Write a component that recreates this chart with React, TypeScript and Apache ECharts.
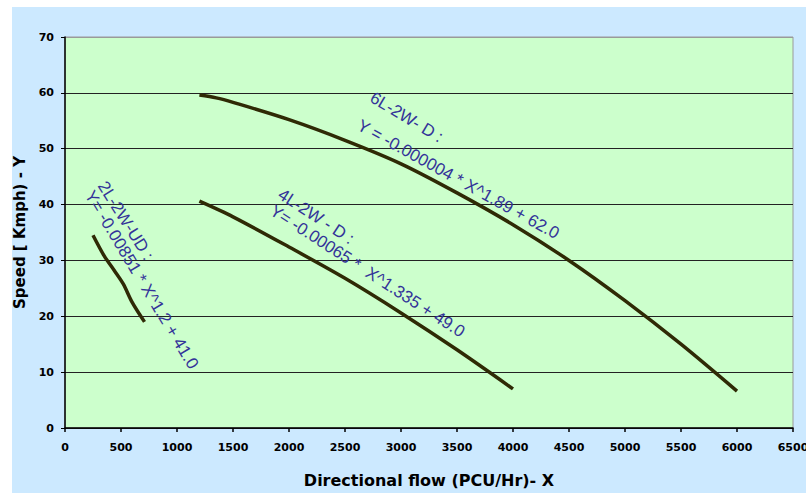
import React, { useEffect, useRef } from "react";
import * as echarts from "echarts";

// ---- data ----
const flow6L = [1200, 1350, 1500, 2000, 2500, 3000, 3500, 4000, 4500, 5000, 5500, 6000];
const speed6L = [59.6, 59.1, 58.3, 55.2, 51.5, 47.3, 42.1, 36.4, 30.0, 22.8, 15.0, 6.6];

const flow4L = [1200, 1500, 2000, 2500, 3000, 3500, 4000];
const speed4L = [40.6, 37.8, 32.4, 26.8, 20.6, 14.0, 7.0];

const flow2L = [250, 350, 440, 520, 600, 710];
const speed2L = [34.5, 30.8, 28.2, 25.8, 22.5, 19.0];

const xTicks = { min: 0, max: 6500, interval: 500 };
const yTicks = { min: 0, max: 70, interval: 10 };

const xAxisName = "Directional flow (PCU/Hr)- X";
const yAxisName = "Speed [ Kmph) - Y";

// equation labels: text, anchor (data units), angle in degrees (clockwise)
const labelTexts = [
  "2L-2W-UD :",
  "Y= -0.00851 * X^1.2 + 41.0",
  "4L-2W - D :",
  "Y= -0.00065 *  X^1.335 + 49.0",
  "6L-2W- D :",
  "Y = -0.000004 * X^1.89 + 62.0",
];
const labelX = [330, 214, 1917, 1846, 2737, 2621];
const labelY = [43.9, 42.2, 42.1, 39.2, 59.4, 54.4];
const labelAngle = [58, 59, 33, 33, 31, 29];

const zip = (xs: number[], ys: number[]) => xs.map((x, i) => [x, ys[i]]);

export default function App() {
  const ref = useRef<HTMLDivElement>(null);
  useEffect(() => {
    if (!ref.current) return;
    const chart = echarts.init(ref.current, undefined, { renderer: "svg" });
    const lineColor = "#2f2a05";
    const labelFont = "'DejaVu Sans', sans-serif";
    const mkSeries = (data: number[][]) => ({
      type: "line",
      data,
      showSymbol: false,
      smooth: 0.3,
      lineStyle: { color: lineColor, width: 3.5 },
      z: 3,
    });
    chart.setOption({
      animation: false,
      backgroundColor: "#cce9ff",
      grid: {
        left: 53,
        right: 13,
        top: 30,
        bottom: 65,
        containLabel: false,
        outerBoundsMode: "none",
        show: true,
        backgroundColor: "#ccffcc",
        borderColor: "#9a9a9a",
        borderWidth: 1,
      },
      xAxis: {
        type: "value",
        min: xTicks.min,
        max: xTicks.max,
        interval: xTicks.interval,
        name: xAxisName,
        nameLocation: "middle",
        nameGap: 44,
        nameTextStyle: { fontFamily: labelFont, fontWeight: "bold", fontSize: 16, color: "#000" },
        axisLine: { show: true, onZero: false, lineStyle: { color: "#000", width: 1.5 } },
        axisTick: { show: true, inside: false, length: 4, lineStyle: { color: "#000", width: 1.5 } },
        axisLabel: {
          fontFamily: labelFont,
          fontWeight: "bold",
          fontSize: 11,
          color: "#000",
          margin: 14,
          formatter: (v: number) => String(v),
        },
        splitLine: { show: false },
      },
      yAxis: {
        type: "value",
        min: yTicks.min,
        max: yTicks.max,
        interval: yTicks.interval,
        name: yAxisName,
        nameLocation: "middle",
        nameGap: 35,
        nameTextStyle: { fontFamily: labelFont, fontWeight: "bold", fontSize: 15, color: "#000" },
        axisLine: { show: true, lineStyle: { color: "#000", width: 1.5 } },
        axisTick: { show: true, inside: false, length: 4, lineStyle: { color: "#000", width: 1 } },
        axisLabel: {
          fontFamily: labelFont,
          fontWeight: "bold",
          fontSize: 11,
          color: "#000",
          margin: 11,
          formatter: (v: number) => String(v),
        },
        splitLine: {
          show: true,
          lineStyle: {
            color: ["#222", "#222", "#222", "#222", "#222", "#222", "#222", "#9a9a9a"],
            width: 1,
          },
        },
      },
      series: [mkSeries(zip(flow6L, speed6L)), mkSeries(zip(flow4L, speed4L)), mkSeries(zip(flow2L, speed2L))],
    });

    const graphics = labelTexts.map((t, i) => {
      const p = chart.convertToPixel({ gridIndex: 0 }, [labelX[i], labelY[i]]) as number[];
      return {
        type: "text",
        x: p[0],
        y: p[1],
        rotation: (-labelAngle[i] * Math.PI) / 180,
        z: 10,
        style: {
          text: t,
          fill: "#333399",
          font: "17px 'Liberation Sans', Arial, sans-serif",
          align: "left",
          verticalAlign: "middle",
        },
      };
    });
    chart.setOption({ graphic: graphics });

    return () => chart.dispose();
  }, []);

  return (
    <div style={{ position: "fixed", left: 0, top: 0, width: 806, height: 493, background: "#fff" }}>
      <div ref={ref} style={{ position: "absolute", left: 12, top: 7, width: 794, height: 486 }} />
    </div>
  );
}
